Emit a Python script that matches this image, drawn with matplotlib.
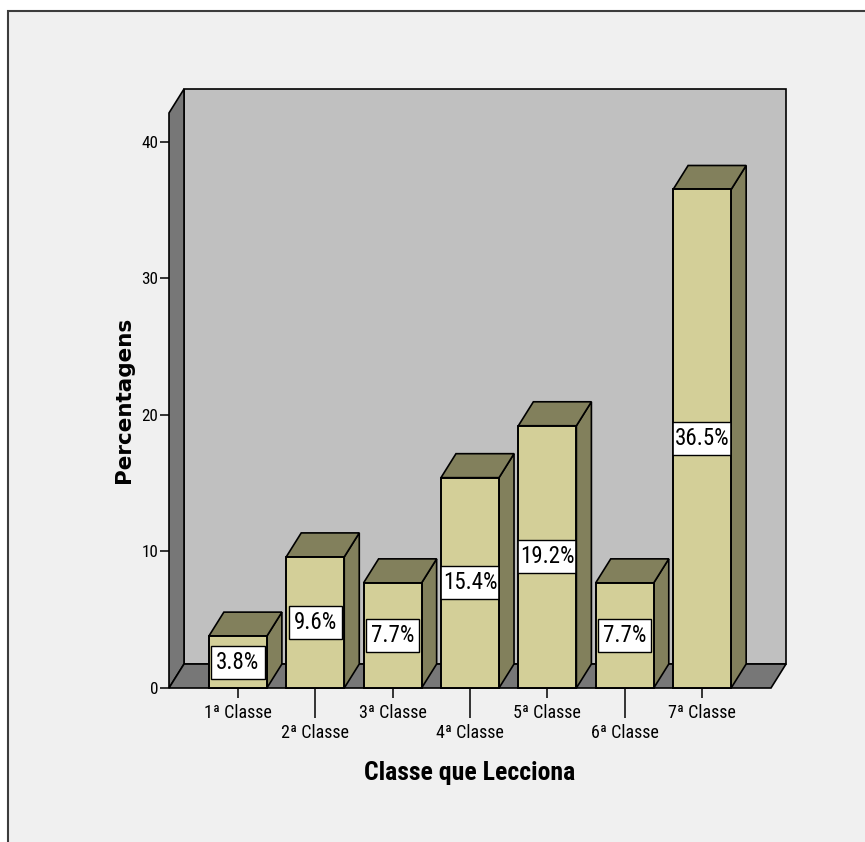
import matplotlib
matplotlib.use("Agg")
import matplotlib.pyplot as plt
from matplotlib import font_manager as fm
from matplotlib.patches import Polygon, Rectangle
import numpy as np

# Data
categories = ["1ª Classe", "2ª Classe", "3ª Classe", "4ª Classe",
              "5ª Classe", "6ª Classe", "7ª Classe"]
percentages = [3.8, 9.6, 7.7, 15.4, 19.2, 7.7, 36.5]
y_ticks = [0, 10, 20, 30, 40]
x_title = "Classe que Lecciona"
y_title = "Percentagens"

# Styling
FACE = "#d3cf98"
SHADE = "#82805c"
WALL = "#c0c0c0"
FLOOR = "#777777"
PANEL = "#f0f0f0"
EDGE_LW = 1.2


def narrow_font(bold=False):
    """Return FontProperties for an installed narrow sans face, or None."""
    prefs = ["liberation sans narrow", "arial narrow", "nimbus sans narrow",
             "roboto condensed", "open sans condensed", "noto sans condensed",
             "noto sans", "open sans", "dejavu sans condensed", "dejavu sans"]
    found = {}
    for f in fm.fontManager.ttflist:
        nm = f.name.lower()
        fn = f.fname.lower()
        st = str(f.stretch).lower()
        is_narrow = ("narrow" in nm or "condensed" in nm or "narrow" in fn
                     or ("condensed" in fn and "semi" not in fn and "extra" not in fn)
                     or st in ("condensed",))
        if not is_narrow or "extra" in fn or "semi" in fn:
            continue
        if "mono" in nm or "serif" in nm or f.style != "normal":
            continue
        w = f.weight if isinstance(f.weight, int) else fm.weight_dict.get(f.weight, 400)
        if (w >= 600) != bold:
            continue
        for i, p in enumerate(prefs):
            if nm.startswith(p):
                found.setdefault(i, f.fname)
                break
    if not found:
        return None
    return fm.FontProperties(fname=found[min(found)])


NARROW_R = narrow_font(False)
NARROW_B = narrow_font(True)
BASE = ['Liberation Sans', 'DejaVu Sans']
plt.rcParams['font.family'] = BASE


def fprops(size, bold=False):
    fp = (NARROW_B if bold else NARROW_R)
    if fp is None:
        return fm.FontProperties(family=BASE, size=size,
                                 weight="bold" if bold else "normal")
    fp = fp.copy()
    fp.set_size(size)
    return fp


have_narrow = NARROW_R is not None
label_size = 16.5 if have_narrow else 14

W, H = 865, 842
fig = plt.figure(figsize=(W / 100, H / 100), dpi=100)
fig.patch.set_facecolor("white")
fig.patches.append(Rectangle((8 / W, -0.1), 1.2, 1 - 11 / H + 0.1,
                             transform=fig.transFigure, facecolor=PANEL,
                             edgecolor="#3c3c3c", linewidth=1.5, zorder=-5))

# Plot box (front plane), in pixels of the figure
left_px, right_px, top_px, base_px = 169, 786, 89, 688
ax = fig.add_axes([left_px / W, 1 - base_px / H,
                   (right_px - left_px) / W, (base_px - top_px) / H])
ax.set_facecolor("none")
for s in ax.spines.values():
    s.set_visible(False)

# 3D box geometry in data units
n = len(categories)
xpos = np.arange(n)
bar_w = 0.75
fx0, fx1 = -0.89, n - 1 + 0.89       # front floor extent
dx, dy = 0.194, 1.755                 # depth offset
wall_h = 42.1

ax.set_xlim(fx0, fx1 + dx)
ax.set_ylim(0, wall_h + dy)

common = dict(edgecolor="black", linewidth=EDGE_LW, clip_on=False)
ax.add_patch(Rectangle((fx0 + dx, dy), fx1 - fx0, wall_h, facecolor=WALL, zorder=1, **common))
ax.add_patch(Polygon([(fx0, 0), (fx0 + dx, dy), (fx0 + dx, wall_h + dy), (fx0, wall_h)],
                     closed=True, facecolor=FLOOR, zorder=1.1, **common))
ax.add_patch(Polygon([(fx0, 0), (fx1, 0), (fx1 + dx, dy), (fx0 + dx, dy)],
                     closed=True, facecolor=FLOOR, zorder=1.2, **common))

# Bar sides and tops
for xi, v in zip(xpos, percentages):
    l, r = xi - bar_w / 2, xi + bar_w / 2
    ax.add_patch(Polygon([(r, 0), (r + dx, dy), (r + dx, v + dy), (r, v)],
                         closed=True, facecolor=SHADE, zorder=2, **common))
    ax.add_patch(Polygon([(l, v), (r, v), (r + dx, v + dy), (l + dx, v + dy)],
                         closed=True, facecolor=SHADE, zorder=2, **common))

bars = ax.bar(xpos, percentages, width=bar_w, color=FACE, edgecolor="black",
              linewidth=EDGE_LW, zorder=3, clip_on=False)

# Value labels, boxed and kept inside the bar face
for rect, xi, v in zip(bars, xpos, percentages):
    t = ax.text(xi, v / 2, f"{v:.1f}%", ha="center", va="center",
                fontproperties=fprops(label_size), color="black", zorder=4,
                clip_on=True,
                bbox=dict(boxstyle="square,pad=0.22", facecolor="white",
                          edgecolor="black", linewidth=1.0))
    t.set_clip_path(rect)
    ax.add_patch(Rectangle(rect.get_xy(), rect.get_width(), rect.get_height(),
                           fill=False, edgecolor="black", linewidth=EDGE_LW,
                           zorder=5, clip_on=False))

# Axes ticks
ax.set_xticks(xpos[::2], [categories[i] for i in xpos[::2]])
ax.set_xticks(xpos[1::2], [categories[i] for i in xpos[1::2]], minor=True)
ax.tick_params(axis="x", which="major", length=7.2, width=1.1, pad=4, colors="black")
ax.tick_params(axis="x", which="minor", length=21.6, width=1.1, pad=4, colors="black")
ax.set_yticks(y_ticks)
ax.tick_params(axis="y", length=6.5, width=1.1, pad=1, colors="black")
for lab in ax.get_xticklabels() + ax.get_xticklabels(minor=True):
    lab.set_fontproperties(fprops(13))
for lab in ax.get_yticklabels():
    lab.set_fontproperties(fprops(12.3))

ax.set_xlabel(x_title, fontproperties=fprops(18.5, bold=True))
ax.xaxis.set_label_coords(0.488, -0.142)
ax.xaxis.label.set_va("center")

ax.set_ylabel(y_title, fontsize=15.5, fontweight="bold", family="DejaVu Sans")
ax.yaxis.set_label_coords(-0.073, 0.481)
ax.yaxis.label.set_va("center")

fig.savefig("out.png", dpi=100, facecolor=fig.get_facecolor())
